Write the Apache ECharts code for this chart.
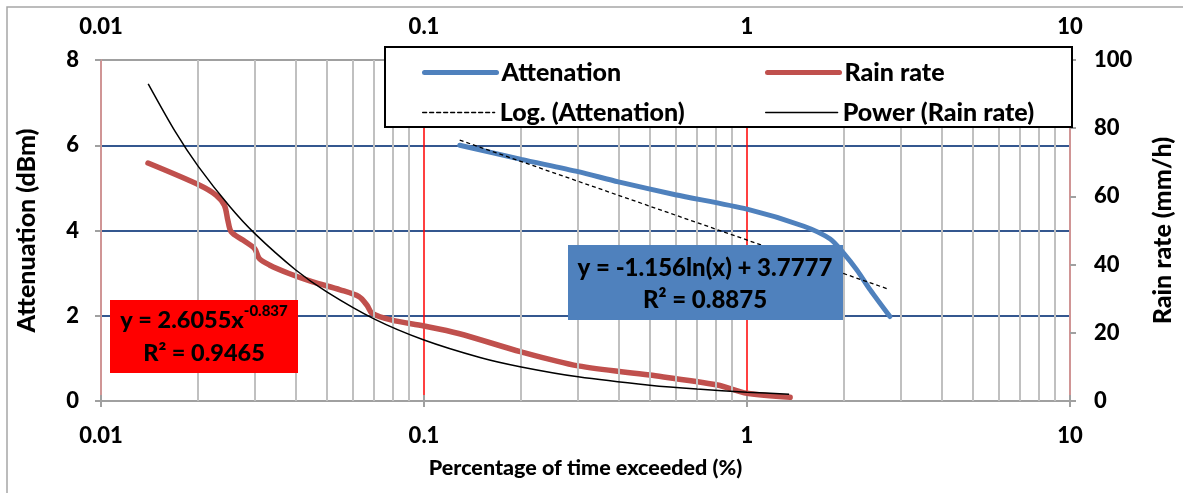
<!DOCTYPE html>
<html>
<head>
<meta charset="utf-8">
<script src="https://cdn.jsdelivr.net/npm/echarts@6/dist/echarts.min.js"></script>
<style>
  html, body { margin: 0; padding: 0; background: #fff; }
  #myChart { width: 1183px; height: 493px; }
</style>
</head>
<body>
<div id="myChart"></div>
<script>
// values
var attenX = [0.129, 0.2, 0.3, 0.4, 0.6, 1.0, 1.5, 1.81, 1.99, 2.19, 2.41, 2.77];
var attenY = [6.0, 5.67, 5.38, 5.14, 4.84, 4.50, 4.10, 3.80, 3.47, 3.07, 2.60, 1.98];

var logTrendX = [0.129, 2.75];
var logTrendY = [6.12, 2.62];

var rainX = [0.01398, 0.0202, 0.0227, 0.0241, 0.0247, 0.0253, 0.0275, 0.0299, 0.0309, 0.0332, 0.0382,
             0.045, 0.055, 0.0629, 0.0666, 0.0691, 0.0795, 0.0999, 0.128, 0.2, 0.3, 0.5, 0.81, 1.0, 1.36];
var rainY = [69.8, 63.3, 60.4, 57.4, 53.0, 49.6, 47.2, 44.7, 41.8, 39.9, 37.4,
             35.0, 32.6, 30.6, 28.1, 25.7, 23.7, 22.0, 19.8, 14.4, 10.3, 7.6, 4.7, 2.25, 1.1];

var powerX = [0.014, 0.017, 0.02, 0.025, 0.03, 0.04, 0.05, 0.07, 0.1, 0.15, 0.2, 0.3, 0.5, 0.7, 1.0, 1.35];
var powerY = [93, 78.9, 68.8, 57.1, 49.0, 38.5, 32.0, 24.1, 17.9, 12.7, 10.0, 7.1, 4.65, 3.5, 2.6, 2.0];

var minorTicks = [0.02, 0.03, 0.04, 0.05, 0.06, 0.07, 0.08, 0.09,
                  0.2, 0.3, 0.4, 0.5, 0.6, 0.7, 0.8, 0.9,
                  2, 3, 4, 5, 6, 7, 8, 9];

function pairs(xs, ys) {
    return xs.map(function (x, i) { return [x, ys[i]]; });
}

var FONT = 'Lato';
var W = 900;
var labelStyle = { color: '#000', fontFamily: FONT, fontWeight: W, fontSize: 22 };
var nameStyle = { color: '#000', fontFamily: FONT, fontWeight: W, fontSize: 21.5 };
var yNameStyle = { color: '#000', fontFamily: FONT, fontWeight: W, fontSize: 25 };

var legendBase = {
    padding: 0,
    itemWidth: 72,
    itemHeight: 14,
    itemStyle: { opacity: 0 },
    textStyle: { color: '#000', fontFamily: FONT, fontWeight: W, fontSize: 25 },
    selectedMode: false,
    z: 20
};
function legendAt(name, left, top, w) {
    return Object.assign({}, legendBase, {
        data: [name], left: left, top: top,
        lineStyle: { width: w, cap: 'round' }
    });
}

var option = {
    backgroundColor: '#fff',
    animation: false,
    grid: { left: 101, right: 109, top: 60, bottom: 92 },
    legend: [
        legendAt('Attenation', 422, 60, 5),
        legendAt('Rain rate', 765, 60, 5),
        legendAt('Log. (Attenation)', 422, 100, 1.3),
        legendAt('Power (Rain rate)', 765, 100, 1.3)
    ],
    graphic: [
        { type: 'rect', z: 0, silent: true,
          shape: { x: 7, y: 7, width: 1200, height: 500 },
          style: { fill: 'none', stroke: '#a6a6a6', lineWidth: 1.5 } },
        { type: 'rect', z: 15, silent: true,
          shape: { x: 385, y: 47, width: 687, height: 80 },
          style: { fill: '#fff', stroke: '#000', lineWidth: 2 } },
        { type: 'rect', z: 15, silent: true,
          shape: { x: 110, y: 300, width: 188, height: 73 },
          style: { fill: '#ff0000' } },
        { type: 'text', z: 16, silent: true, x: 204, y: 337,
          style: {
              text: '{a|y = 2.6055x}{s|-0.837}\n{a|R² = 0.9465}',
              align: 'center', verticalAlign: 'middle',
              rich: {
                  a: { fontFamily: FONT, fontWeight: W, fontSize: 23.5, lineHeight: 33, fill: '#000' },
                  s: { fontFamily: FONT, fontWeight: W, fontSize: 15, lineHeight: 33, verticalAlign: 'top', fill: '#000' }
              }
          } },
        { type: 'rect', z: 15, silent: true,
          shape: { x: 568, y: 245, width: 275, height: 75 },
          style: { fill: '#4f81bd' } },
        { type: 'text', z: 16, silent: true, x: 705, y: 284,
          style: {
              text: 'y = -1.156ln(x) + 3.7777\nR² = 0.8875',
              align: 'center', verticalAlign: 'middle',
              fontFamily: FONT, fontWeight: W, fontSize: 24, lineHeight: 32, fill: '#000'
          } }
    ],
    xAxis: [
        {
            type: 'log', logBase: 10, min: 0.01, max: 10, position: 'bottom',
            name: 'Percentage of time exceeded (%)', nameLocation: 'middle', nameGap: 56,
            nameTextStyle: nameStyle,
            axisLine: { lineStyle: { color: '#a0a0a0', width: 2 } },
            axisTick: { show: true, length: 6, lineStyle: { color: '#a0a0a0', width: 2 } },
            axisLabel: Object.assign({ margin: 24 }, labelStyle),
            splitLine: { show: true, lineStyle: { color: ['#d09595', '#ff0000', '#ff0000', '#d09595'], width: 1.5 } }
        },
        {
            type: 'log', logBase: 10, min: 0.01, max: 10, position: 'top',
            axisLine: { lineStyle: { color: '#a0a0a0', width: 2 } },
            axisTick: { show: true, length: 6, lineStyle: { color: '#a0a0a0', width: 2 } },
            axisLabel: Object.assign({ margin: 22 }, labelStyle),
            splitLine: { show: false }
        }
    ],
    yAxis: [
        {
            type: 'value', min: 0, max: 8, interval: 2,
            name: 'Attenuation (dBm)', nameLocation: 'middle', nameGap: 62, nameRotate: 90,
            nameTextStyle: yNameStyle,
            axisLine: { show: true, lineStyle: { color: '#d09595', width: 2 } },
            axisTick: { show: true, length: 6, lineStyle: { color: '#a0a0a0', width: 2 } },
            axisLabel: Object.assign({ margin: 22 }, labelStyle),
            splitLine: { show: true, lineStyle: { color: ['#a0a0a0', '#34578f', '#34578f', '#34578f', '#a0a0a0'], width: 2 } }
        },
        {
            type: 'value', min: 0, max: 100, interval: 20, position: 'right',
            name: 'Rain rate (mm/h)', nameLocation: 'middle', nameGap: 80, nameRotate: 90,
            nameTextStyle: yNameStyle,
            axisLine: { show: true, lineStyle: { color: '#d09595', width: 2 } },
            axisTick: { show: true, length: 6, lineStyle: { color: '#a0a0a0', width: 2 } },
            axisLabel: Object.assign({ margin: 24 }, labelStyle),
            splitLine: { show: false }
        }
    ],
    series: [
        {
            name: 'grid', type: 'line', data: [], z: 1, silent: true,
            markLine: {
                silent: true, symbol: 'none', label: { show: false },
                lineStyle: { color: '#c0c0c0', type: 'solid', width: 2 },
                data: minorTicks.map(function (v) { return { xAxis: v }; })
            }
        },
        {
            name: 'Attenation', type: 'line', xAxisIndex: 0, yAxisIndex: 0, z: 5,
            data: pairs(attenX, attenY), showSymbol: false, symbol: 'none',
            smooth: 0.25,
            lineStyle: { color: '#4f81bd', width: 5, cap: 'round' },
            itemStyle: { color: '#4f81bd' }
        },
        {
            name: 'Rain rate', type: 'line', xAxisIndex: 0, yAxisIndex: 1, z: 4,
            data: pairs(rainX, rainY), showSymbol: false, symbol: 'none',
            smooth: 0.3,
            lineStyle: { color: '#c0504d', width: 5.5, cap: 'round' },
            itemStyle: { color: '#c0504d' }
        },
        {
            name: 'Log. (Attenation)', type: 'line', xAxisIndex: 0, yAxisIndex: 0, z: 6,
            data: pairs(logTrendX, logTrendY), showSymbol: false, symbol: 'none',
            lineStyle: { color: '#000', width: 1.3, type: [4, 3] },
            itemStyle: { color: '#000' }
        },
        {
            name: 'Power (Rain rate)', type: 'line', xAxisIndex: 0, yAxisIndex: 1, z: 6,
            data: pairs(powerX, powerY), showSymbol: false, symbol: 'none',
            smooth: 0.3,
            lineStyle: { color: '#000', width: 1.5 },
            itemStyle: { color: '#000' }
        }
    ]
};

var myChart = echarts.init(document.getElementById('myChart'));
myChart.setOption(option);
</script>
</body>
</html>
